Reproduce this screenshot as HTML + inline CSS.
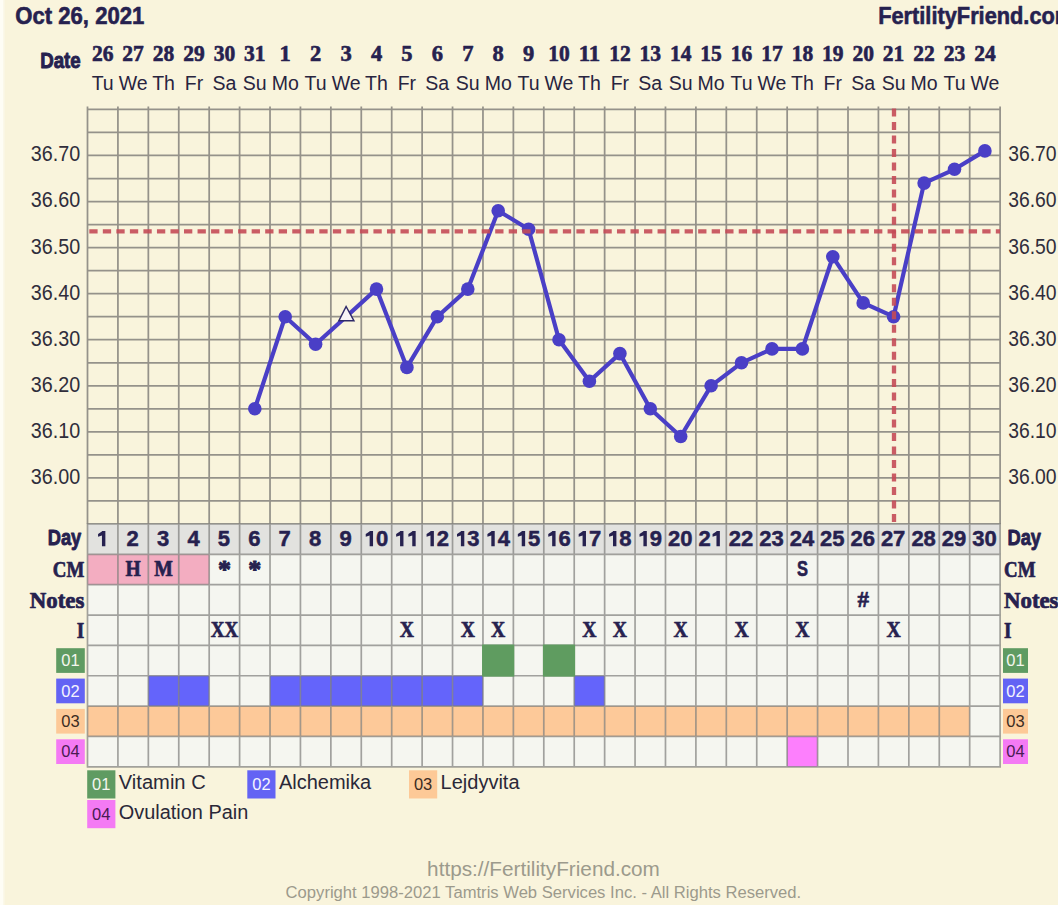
<!DOCTYPE html><html><head><meta charset="utf-8"><style>html,body{margin:0;padding:0;background:#f9f4dc;overflow:hidden;}svg{display:block}</style></head><body>
<svg width="1058" height="905" viewBox="0 0 1058 905" font-family="Liberation Sans, sans-serif">
<rect x="0" y="0" width="1058" height="905" fill="#f9f4dc"/>
<rect x="0" y="0" width="3" height="905" fill="#fefdf5"/><rect x="3" y="0" width="1.5" height="905" fill="#fbf8e9"/>
<text x="15.3" y="24.4" font-size="24.0" font-weight="bold" text-anchor="start" fill="#26214f" textLength="129.0" lengthAdjust="spacingAndGlyphs" stroke="#26214f" stroke-width="0.60" stroke-linejoin="round">Oct 26, 2021</text>
<text x="878.2" y="24.2" font-size="24.0" font-weight="bold" text-anchor="start" fill="#26214f" textLength="196.0" lengthAdjust="spacingAndGlyphs" stroke="#26214f" stroke-width="0.60" stroke-linejoin="round">FertilityFriend.com</text>
<text x="80.7" y="68.1" font-size="21.5" font-weight="bold" text-anchor="end" fill="#26214f" textLength="40.5" lengthAdjust="spacingAndGlyphs" stroke="#26214f" stroke-width="0.90" stroke-linejoin="round">Date</text>
<text x="102.7" y="60.9" font-size="22.5" font-weight="bold" text-anchor="middle" fill="#26214f" font-family="Liberation Serif, serif" textLength="21.5" lengthAdjust="spacingAndGlyphs" stroke="#26214f" stroke-width="0.60" stroke-linejoin="round">26</text>
<text x="102.7" y="90.3" font-size="19.5" font-weight="normal" text-anchor="middle" fill="#28243f">Tu</text>
<text x="133.1" y="60.9" font-size="22.5" font-weight="bold" text-anchor="middle" fill="#26214f" font-family="Liberation Serif, serif" textLength="21.5" lengthAdjust="spacingAndGlyphs" stroke="#26214f" stroke-width="0.60" stroke-linejoin="round">27</text>
<text x="133.1" y="90.3" font-size="19.5" font-weight="normal" text-anchor="middle" fill="#28243f">We</text>
<text x="163.6" y="60.9" font-size="22.5" font-weight="bold" text-anchor="middle" fill="#26214f" font-family="Liberation Serif, serif" textLength="21.5" lengthAdjust="spacingAndGlyphs" stroke="#26214f" stroke-width="0.60" stroke-linejoin="round">28</text>
<text x="163.6" y="90.3" font-size="19.5" font-weight="normal" text-anchor="middle" fill="#28243f">Th</text>
<text x="194.0" y="60.9" font-size="22.5" font-weight="bold" text-anchor="middle" fill="#26214f" font-family="Liberation Serif, serif" textLength="21.5" lengthAdjust="spacingAndGlyphs" stroke="#26214f" stroke-width="0.60" stroke-linejoin="round">29</text>
<text x="194.0" y="90.3" font-size="19.5" font-weight="normal" text-anchor="middle" fill="#28243f">Fr</text>
<text x="224.4" y="60.9" font-size="22.5" font-weight="bold" text-anchor="middle" fill="#26214f" font-family="Liberation Serif, serif" textLength="21.5" lengthAdjust="spacingAndGlyphs" stroke="#26214f" stroke-width="0.60" stroke-linejoin="round">30</text>
<text x="224.4" y="90.3" font-size="19.5" font-weight="normal" text-anchor="middle" fill="#28243f">Sa</text>
<text x="254.8" y="60.9" font-size="22.5" font-weight="bold" text-anchor="middle" fill="#26214f" font-family="Liberation Serif, serif" textLength="21.5" lengthAdjust="spacingAndGlyphs" stroke="#26214f" stroke-width="0.60" stroke-linejoin="round">31</text>
<text x="254.8" y="90.3" font-size="19.5" font-weight="normal" text-anchor="middle" fill="#28243f">Su</text>
<text x="285.2" y="60.9" font-size="22.5" font-weight="bold" text-anchor="middle" fill="#26214f" font-family="Liberation Serif, serif" stroke="#26214f" stroke-width="0.60" stroke-linejoin="round">1</text>
<text x="285.2" y="90.3" font-size="19.5" font-weight="normal" text-anchor="middle" fill="#28243f">Mo</text>
<text x="315.6" y="60.9" font-size="22.5" font-weight="bold" text-anchor="middle" fill="#26214f" font-family="Liberation Serif, serif" stroke="#26214f" stroke-width="0.60" stroke-linejoin="round">2</text>
<text x="315.6" y="90.3" font-size="19.5" font-weight="normal" text-anchor="middle" fill="#28243f">Tu</text>
<text x="346.1" y="60.9" font-size="22.5" font-weight="bold" text-anchor="middle" fill="#26214f" font-family="Liberation Serif, serif" stroke="#26214f" stroke-width="0.60" stroke-linejoin="round">3</text>
<text x="346.1" y="90.3" font-size="19.5" font-weight="normal" text-anchor="middle" fill="#28243f">We</text>
<text x="376.5" y="60.9" font-size="22.5" font-weight="bold" text-anchor="middle" fill="#26214f" font-family="Liberation Serif, serif" stroke="#26214f" stroke-width="0.60" stroke-linejoin="round">4</text>
<text x="376.5" y="90.3" font-size="19.5" font-weight="normal" text-anchor="middle" fill="#28243f">Th</text>
<text x="406.9" y="60.9" font-size="22.5" font-weight="bold" text-anchor="middle" fill="#26214f" font-family="Liberation Serif, serif" stroke="#26214f" stroke-width="0.60" stroke-linejoin="round">5</text>
<text x="406.9" y="90.3" font-size="19.5" font-weight="normal" text-anchor="middle" fill="#28243f">Fr</text>
<text x="437.3" y="60.9" font-size="22.5" font-weight="bold" text-anchor="middle" fill="#26214f" font-family="Liberation Serif, serif" stroke="#26214f" stroke-width="0.60" stroke-linejoin="round">6</text>
<text x="437.3" y="90.3" font-size="19.5" font-weight="normal" text-anchor="middle" fill="#28243f">Sa</text>
<text x="467.8" y="60.9" font-size="22.5" font-weight="bold" text-anchor="middle" fill="#26214f" font-family="Liberation Serif, serif" stroke="#26214f" stroke-width="0.60" stroke-linejoin="round">7</text>
<text x="467.8" y="90.3" font-size="19.5" font-weight="normal" text-anchor="middle" fill="#28243f">Su</text>
<text x="498.2" y="60.9" font-size="22.5" font-weight="bold" text-anchor="middle" fill="#26214f" font-family="Liberation Serif, serif" stroke="#26214f" stroke-width="0.60" stroke-linejoin="round">8</text>
<text x="498.2" y="90.3" font-size="19.5" font-weight="normal" text-anchor="middle" fill="#28243f">Mo</text>
<text x="528.6" y="60.9" font-size="22.5" font-weight="bold" text-anchor="middle" fill="#26214f" font-family="Liberation Serif, serif" stroke="#26214f" stroke-width="0.60" stroke-linejoin="round">9</text>
<text x="528.6" y="90.3" font-size="19.5" font-weight="normal" text-anchor="middle" fill="#28243f">Tu</text>
<text x="559.0" y="60.9" font-size="22.5" font-weight="bold" text-anchor="middle" fill="#26214f" font-family="Liberation Serif, serif" textLength="21.5" lengthAdjust="spacingAndGlyphs" stroke="#26214f" stroke-width="0.60" stroke-linejoin="round">10</text>
<text x="559.0" y="90.3" font-size="19.5" font-weight="normal" text-anchor="middle" fill="#28243f">We</text>
<text x="589.4" y="60.9" font-size="22.5" font-weight="bold" text-anchor="middle" fill="#26214f" font-family="Liberation Serif, serif" textLength="21.5" lengthAdjust="spacingAndGlyphs" stroke="#26214f" stroke-width="0.60" stroke-linejoin="round">11</text>
<text x="589.4" y="90.3" font-size="19.5" font-weight="normal" text-anchor="middle" fill="#28243f">Th</text>
<text x="619.9" y="60.9" font-size="22.5" font-weight="bold" text-anchor="middle" fill="#26214f" font-family="Liberation Serif, serif" textLength="21.5" lengthAdjust="spacingAndGlyphs" stroke="#26214f" stroke-width="0.60" stroke-linejoin="round">12</text>
<text x="619.9" y="90.3" font-size="19.5" font-weight="normal" text-anchor="middle" fill="#28243f">Fr</text>
<text x="650.3" y="60.9" font-size="22.5" font-weight="bold" text-anchor="middle" fill="#26214f" font-family="Liberation Serif, serif" textLength="21.5" lengthAdjust="spacingAndGlyphs" stroke="#26214f" stroke-width="0.60" stroke-linejoin="round">13</text>
<text x="650.3" y="90.3" font-size="19.5" font-weight="normal" text-anchor="middle" fill="#28243f">Sa</text>
<text x="680.7" y="60.9" font-size="22.5" font-weight="bold" text-anchor="middle" fill="#26214f" font-family="Liberation Serif, serif" textLength="21.5" lengthAdjust="spacingAndGlyphs" stroke="#26214f" stroke-width="0.60" stroke-linejoin="round">14</text>
<text x="680.7" y="90.3" font-size="19.5" font-weight="normal" text-anchor="middle" fill="#28243f">Su</text>
<text x="711.1" y="60.9" font-size="22.5" font-weight="bold" text-anchor="middle" fill="#26214f" font-family="Liberation Serif, serif" textLength="21.5" lengthAdjust="spacingAndGlyphs" stroke="#26214f" stroke-width="0.60" stroke-linejoin="round">15</text>
<text x="711.1" y="90.3" font-size="19.5" font-weight="normal" text-anchor="middle" fill="#28243f">Mo</text>
<text x="741.5" y="60.9" font-size="22.5" font-weight="bold" text-anchor="middle" fill="#26214f" font-family="Liberation Serif, serif" textLength="21.5" lengthAdjust="spacingAndGlyphs" stroke="#26214f" stroke-width="0.60" stroke-linejoin="round">16</text>
<text x="741.5" y="90.3" font-size="19.5" font-weight="normal" text-anchor="middle" fill="#28243f">Tu</text>
<text x="772.0" y="60.9" font-size="22.5" font-weight="bold" text-anchor="middle" fill="#26214f" font-family="Liberation Serif, serif" textLength="21.5" lengthAdjust="spacingAndGlyphs" stroke="#26214f" stroke-width="0.60" stroke-linejoin="round">17</text>
<text x="772.0" y="90.3" font-size="19.5" font-weight="normal" text-anchor="middle" fill="#28243f">We</text>
<text x="802.4" y="60.9" font-size="22.5" font-weight="bold" text-anchor="middle" fill="#26214f" font-family="Liberation Serif, serif" textLength="21.5" lengthAdjust="spacingAndGlyphs" stroke="#26214f" stroke-width="0.60" stroke-linejoin="round">18</text>
<text x="802.4" y="90.3" font-size="19.5" font-weight="normal" text-anchor="middle" fill="#28243f">Th</text>
<text x="832.8" y="60.9" font-size="22.5" font-weight="bold" text-anchor="middle" fill="#26214f" font-family="Liberation Serif, serif" textLength="21.5" lengthAdjust="spacingAndGlyphs" stroke="#26214f" stroke-width="0.60" stroke-linejoin="round">19</text>
<text x="832.8" y="90.3" font-size="19.5" font-weight="normal" text-anchor="middle" fill="#28243f">Fr</text>
<text x="863.2" y="60.9" font-size="22.5" font-weight="bold" text-anchor="middle" fill="#26214f" font-family="Liberation Serif, serif" textLength="21.5" lengthAdjust="spacingAndGlyphs" stroke="#26214f" stroke-width="0.60" stroke-linejoin="round">20</text>
<text x="863.2" y="90.3" font-size="19.5" font-weight="normal" text-anchor="middle" fill="#28243f">Sa</text>
<text x="893.6" y="60.9" font-size="22.5" font-weight="bold" text-anchor="middle" fill="#26214f" font-family="Liberation Serif, serif" textLength="21.5" lengthAdjust="spacingAndGlyphs" stroke="#26214f" stroke-width="0.60" stroke-linejoin="round">21</text>
<text x="893.6" y="90.3" font-size="19.5" font-weight="normal" text-anchor="middle" fill="#28243f">Su</text>
<text x="924.1" y="60.9" font-size="22.5" font-weight="bold" text-anchor="middle" fill="#26214f" font-family="Liberation Serif, serif" textLength="21.5" lengthAdjust="spacingAndGlyphs" stroke="#26214f" stroke-width="0.60" stroke-linejoin="round">22</text>
<text x="924.1" y="90.3" font-size="19.5" font-weight="normal" text-anchor="middle" fill="#28243f">Mo</text>
<text x="954.5" y="60.9" font-size="22.5" font-weight="bold" text-anchor="middle" fill="#26214f" font-family="Liberation Serif, serif" textLength="21.5" lengthAdjust="spacingAndGlyphs" stroke="#26214f" stroke-width="0.60" stroke-linejoin="round">23</text>
<text x="954.5" y="90.3" font-size="19.5" font-weight="normal" text-anchor="middle" fill="#28243f">Tu</text>
<text x="984.9" y="60.9" font-size="22.5" font-weight="bold" text-anchor="middle" fill="#26214f" font-family="Liberation Serif, serif" textLength="21.5" lengthAdjust="spacingAndGlyphs" stroke="#26214f" stroke-width="0.60" stroke-linejoin="round">24</text>
<text x="984.9" y="90.3" font-size="19.5" font-weight="normal" text-anchor="middle" fill="#28243f">We</text>
<path d="M87.5 109.40H1000.1M87.5 132.43H1000.1M87.5 155.47H1000.1M87.5 178.50H1000.1M87.5 201.53H1000.1M87.5 224.57H1000.1M87.5 247.60H1000.1M87.5 270.63H1000.1M87.5 293.67H1000.1M87.5 316.70H1000.1M87.5 339.73H1000.1M87.5 362.77H1000.1M87.5 385.80H1000.1M87.5 408.83H1000.1M87.5 431.87H1000.1M87.5 454.90H1000.1M87.5 477.93H1000.1M87.5 500.97H1000.1M87.5 524.00H1000.1M87.50 106.4V524.0M117.92 106.4V524.0M148.34 106.4V524.0M178.76 106.4V524.0M209.18 106.4V524.0M239.60 106.4V524.0M270.02 106.4V524.0M300.44 106.4V524.0M330.86 106.4V524.0M361.28 106.4V524.0M391.70 106.4V524.0M422.12 106.4V524.0M452.54 106.4V524.0M482.96 106.4V524.0M513.38 106.4V524.0M543.80 106.4V524.0M574.22 106.4V524.0M604.64 106.4V524.0M635.06 106.4V524.0M665.48 106.4V524.0M695.90 106.4V524.0M726.32 106.4V524.0M756.74 106.4V524.0M787.16 106.4V524.0M817.58 106.4V524.0M848.00 106.4V524.0M878.42 106.4V524.0M908.84 106.4V524.0M939.26 106.4V524.0M969.68 106.4V524.0M1000.10 106.4V524.0" stroke="#95928a" stroke-width="1.75" fill="none"/>
<text x="80.2" y="161.4" font-size="21.5" font-weight="normal" text-anchor="end" fill="#302d3b" textLength="49.4" lengthAdjust="spacingAndGlyphs">36.70</text>
<text x="1008.2" y="161.4" font-size="21.5" font-weight="normal" text-anchor="start" fill="#302d3b" textLength="48.4" lengthAdjust="spacingAndGlyphs">36.70</text>
<text x="80.2" y="207.4" font-size="21.5" font-weight="normal" text-anchor="end" fill="#302d3b" textLength="49.4" lengthAdjust="spacingAndGlyphs">36.60</text>
<text x="1008.2" y="207.4" font-size="21.5" font-weight="normal" text-anchor="start" fill="#302d3b" textLength="48.4" lengthAdjust="spacingAndGlyphs">36.60</text>
<text x="80.2" y="253.5" font-size="21.5" font-weight="normal" text-anchor="end" fill="#302d3b" textLength="49.4" lengthAdjust="spacingAndGlyphs">36.50</text>
<text x="1008.2" y="253.5" font-size="21.5" font-weight="normal" text-anchor="start" fill="#302d3b" textLength="48.4" lengthAdjust="spacingAndGlyphs">36.50</text>
<text x="80.2" y="299.6" font-size="21.5" font-weight="normal" text-anchor="end" fill="#302d3b" textLength="49.4" lengthAdjust="spacingAndGlyphs">36.40</text>
<text x="1008.2" y="299.6" font-size="21.5" font-weight="normal" text-anchor="start" fill="#302d3b" textLength="48.4" lengthAdjust="spacingAndGlyphs">36.40</text>
<text x="80.2" y="345.6" font-size="21.5" font-weight="normal" text-anchor="end" fill="#302d3b" textLength="49.4" lengthAdjust="spacingAndGlyphs">36.30</text>
<text x="1008.2" y="345.6" font-size="21.5" font-weight="normal" text-anchor="start" fill="#302d3b" textLength="48.4" lengthAdjust="spacingAndGlyphs">36.30</text>
<text x="80.2" y="391.7" font-size="21.5" font-weight="normal" text-anchor="end" fill="#302d3b" textLength="49.4" lengthAdjust="spacingAndGlyphs">36.20</text>
<text x="1008.2" y="391.7" font-size="21.5" font-weight="normal" text-anchor="start" fill="#302d3b" textLength="48.4" lengthAdjust="spacingAndGlyphs">36.20</text>
<text x="80.2" y="437.8" font-size="21.5" font-weight="normal" text-anchor="end" fill="#302d3b" textLength="49.4" lengthAdjust="spacingAndGlyphs">36.10</text>
<text x="1008.2" y="437.8" font-size="21.5" font-weight="normal" text-anchor="start" fill="#302d3b" textLength="48.4" lengthAdjust="spacingAndGlyphs">36.10</text>
<text x="80.2" y="483.8" font-size="21.5" font-weight="normal" text-anchor="end" fill="#302d3b" textLength="49.4" lengthAdjust="spacingAndGlyphs">36.00</text>
<text x="1008.2" y="483.8" font-size="21.5" font-weight="normal" text-anchor="start" fill="#302d3b" textLength="48.4" lengthAdjust="spacingAndGlyphs">36.00</text>
<rect x="87.5" y="524.0" width="912.6" height="30.4" fill="#e2e2df"/>
<rect x="87.5" y="554.4" width="912.6" height="212.5" fill="#f5f6f0"/>
<rect x="87.50" y="554.35" width="30.42" height="30.35" fill="#f3adc1"/>
<rect x="117.92" y="554.35" width="30.42" height="30.35" fill="#f3adc1"/>
<rect x="148.34" y="554.35" width="30.42" height="30.35" fill="#f3adc1"/>
<rect x="178.76" y="554.35" width="30.42" height="30.35" fill="#f3adc1"/>
<rect x="148.34" y="675.75" width="30.42" height="30.35" fill="#6464fb"/>
<rect x="178.76" y="675.75" width="30.42" height="30.35" fill="#6464fb"/>
<rect x="270.02" y="675.75" width="30.42" height="30.35" fill="#6464fb"/>
<rect x="300.44" y="675.75" width="30.42" height="30.35" fill="#6464fb"/>
<rect x="330.86" y="675.75" width="30.42" height="30.35" fill="#6464fb"/>
<rect x="361.28" y="675.75" width="30.42" height="30.35" fill="#6464fb"/>
<rect x="391.70" y="675.75" width="30.42" height="30.35" fill="#6464fb"/>
<rect x="422.12" y="675.75" width="30.42" height="30.35" fill="#6464fb"/>
<rect x="452.54" y="675.75" width="30.42" height="30.35" fill="#6464fb"/>
<rect x="574.22" y="675.75" width="30.42" height="30.35" fill="#6464fb"/>
<rect x="87.50" y="706.10" width="30.42" height="30.35" fill="#fdc999"/>
<rect x="117.92" y="706.10" width="30.42" height="30.35" fill="#fdc999"/>
<rect x="148.34" y="706.10" width="30.42" height="30.35" fill="#fdc999"/>
<rect x="178.76" y="706.10" width="30.42" height="30.35" fill="#fdc999"/>
<rect x="209.18" y="706.10" width="30.42" height="30.35" fill="#fdc999"/>
<rect x="239.60" y="706.10" width="30.42" height="30.35" fill="#fdc999"/>
<rect x="270.02" y="706.10" width="30.42" height="30.35" fill="#fdc999"/>
<rect x="300.44" y="706.10" width="30.42" height="30.35" fill="#fdc999"/>
<rect x="330.86" y="706.10" width="30.42" height="30.35" fill="#fdc999"/>
<rect x="361.28" y="706.10" width="30.42" height="30.35" fill="#fdc999"/>
<rect x="391.70" y="706.10" width="30.42" height="30.35" fill="#fdc999"/>
<rect x="422.12" y="706.10" width="30.42" height="30.35" fill="#fdc999"/>
<rect x="452.54" y="706.10" width="30.42" height="30.35" fill="#fdc999"/>
<rect x="482.96" y="706.10" width="30.42" height="30.35" fill="#fdc999"/>
<rect x="513.38" y="706.10" width="30.42" height="30.35" fill="#fdc999"/>
<rect x="543.80" y="706.10" width="30.42" height="30.35" fill="#fdc999"/>
<rect x="574.22" y="706.10" width="30.42" height="30.35" fill="#fdc999"/>
<rect x="604.64" y="706.10" width="30.42" height="30.35" fill="#fdc999"/>
<rect x="635.06" y="706.10" width="30.42" height="30.35" fill="#fdc999"/>
<rect x="665.48" y="706.10" width="30.42" height="30.35" fill="#fdc999"/>
<rect x="695.90" y="706.10" width="30.42" height="30.35" fill="#fdc999"/>
<rect x="726.32" y="706.10" width="30.42" height="30.35" fill="#fdc999"/>
<rect x="756.74" y="706.10" width="30.42" height="30.35" fill="#fdc999"/>
<rect x="787.16" y="706.10" width="30.42" height="30.35" fill="#fdc999"/>
<rect x="817.58" y="706.10" width="30.42" height="30.35" fill="#fdc999"/>
<rect x="848.00" y="706.10" width="30.42" height="30.35" fill="#fdc999"/>
<rect x="878.42" y="706.10" width="30.42" height="30.35" fill="#fdc999"/>
<rect x="908.84" y="706.10" width="30.42" height="30.35" fill="#fdc999"/>
<rect x="939.26" y="706.10" width="30.42" height="30.35" fill="#fdc999"/>
<rect x="787.16" y="736.45" width="30.42" height="30.35" fill="#fd7ffd"/>
<path d="M86.7 524.00H1001.0M86.7 554.35H1001.0M86.7 584.70H1001.0M86.7 615.05H1001.0M86.7 645.40H1001.0M86.7 675.75H1001.0M86.7 706.10H1001.0M86.7 736.45H1001.0M86.7 766.80H1001.0M87.50 524.0V766.8M117.92 524.0V766.8M148.34 524.0V766.8M178.76 524.0V766.8M209.18 524.0V766.8M239.60 524.0V766.8M270.02 524.0V766.8M300.44 524.0V766.8M330.86 524.0V766.8M361.28 524.0V766.8M391.70 524.0V766.8M422.12 524.0V766.8M452.54 524.0V766.8M482.96 524.0V766.8M513.38 524.0V766.8M543.80 524.0V766.8M574.22 524.0V766.8M604.64 524.0V766.8M635.06 524.0V766.8M665.48 524.0V766.8M695.90 524.0V766.8M726.32 524.0V766.8M756.74 524.0V766.8M787.16 524.0V766.8M817.58 524.0V766.8M848.00 524.0V766.8M878.42 524.0V766.8M908.84 524.0V766.8M939.26 524.0V766.8M969.68 524.0V766.8M1000.10 524.0V766.8" stroke="#7e7e7a" stroke-opacity="0.7" stroke-width="1.7" fill="none"/>
<rect x="482.06" y="644.50" width="32.22" height="32.15" fill="#5f9c60"/>
<rect x="542.90" y="644.50" width="32.22" height="32.15" fill="#5f9c60"/>
<path d="M102.06 531.10 L105.36 531.10 L105.36 546.30 L101.96 546.30 L101.96 535.40 L98.06 536.70 L98.06 534.00 L101.86 531.40 Z" fill="#26214f"/>
<text x="132.6" y="546.3" font-size="22.0" font-weight="bold" text-anchor="middle" fill="#26214f" stroke="#26214f" stroke-width="0.50" stroke-linejoin="round">2</text>
<text x="163.1" y="546.3" font-size="22.0" font-weight="bold" text-anchor="middle" fill="#26214f" stroke="#26214f" stroke-width="0.50" stroke-linejoin="round">3</text>
<text x="193.5" y="546.3" font-size="22.0" font-weight="bold" text-anchor="middle" fill="#26214f" stroke="#26214f" stroke-width="0.50" stroke-linejoin="round">4</text>
<text x="223.9" y="546.3" font-size="22.0" font-weight="bold" text-anchor="middle" fill="#26214f" stroke="#26214f" stroke-width="0.50" stroke-linejoin="round">5</text>
<text x="254.3" y="546.3" font-size="22.0" font-weight="bold" text-anchor="middle" fill="#26214f" stroke="#26214f" stroke-width="0.50" stroke-linejoin="round">6</text>
<text x="284.7" y="546.3" font-size="22.0" font-weight="bold" text-anchor="middle" fill="#26214f" stroke="#26214f" stroke-width="0.50" stroke-linejoin="round">7</text>
<text x="315.1" y="546.3" font-size="22.0" font-weight="bold" text-anchor="middle" fill="#26214f" stroke="#26214f" stroke-width="0.50" stroke-linejoin="round">8</text>
<text x="345.6" y="546.3" font-size="22.0" font-weight="bold" text-anchor="middle" fill="#26214f" stroke="#26214f" stroke-width="0.50" stroke-linejoin="round">9</text>
<path d="M369.74 531.10 L373.04 531.10 L373.04 546.30 L369.64 546.30 L369.64 535.40 L365.74 536.70 L365.74 534.00 L369.54 531.40 Z" fill="#26214f"/>
<text x="382.1" y="546.3" font-size="22.0" font-weight="bold" text-anchor="middle" fill="#26214f" stroke="#26214f" stroke-width="0.50" stroke-linejoin="round">0</text>
<path d="M400.16 531.10 L403.46 531.10 L403.46 546.30 L400.06 546.30 L400.06 535.40 L396.16 536.70 L396.16 534.00 L399.96 531.40 Z" fill="#26214f"/>
<path d="M412.36 531.10 L415.66 531.10 L415.66 546.30 L412.26 546.30 L412.26 535.40 L408.36 536.70 L408.36 534.00 L412.16 531.40 Z" fill="#26214f"/>
<path d="M430.58 531.10 L433.88 531.10 L433.88 546.30 L430.48 546.30 L430.48 535.40 L426.58 536.70 L426.58 534.00 L430.38 531.40 Z" fill="#26214f"/>
<text x="442.9" y="546.3" font-size="22.0" font-weight="bold" text-anchor="middle" fill="#26214f" stroke="#26214f" stroke-width="0.50" stroke-linejoin="round">2</text>
<path d="M461.00 531.10 L464.30 531.10 L464.30 546.30 L460.90 546.30 L460.90 535.40 L457.00 536.70 L457.00 534.00 L460.80 531.40 Z" fill="#26214f"/>
<text x="473.4" y="546.3" font-size="22.0" font-weight="bold" text-anchor="middle" fill="#26214f" stroke="#26214f" stroke-width="0.50" stroke-linejoin="round">3</text>
<path d="M491.42 531.10 L494.72 531.10 L494.72 546.30 L491.32 546.30 L491.32 535.40 L487.42 536.70 L487.42 534.00 L491.22 531.40 Z" fill="#26214f"/>
<text x="503.8" y="546.3" font-size="22.0" font-weight="bold" text-anchor="middle" fill="#26214f" stroke="#26214f" stroke-width="0.50" stroke-linejoin="round">4</text>
<path d="M521.84 531.10 L525.14 531.10 L525.14 546.30 L521.74 546.30 L521.74 535.40 L517.84 536.70 L517.84 534.00 L521.64 531.40 Z" fill="#26214f"/>
<text x="534.2" y="546.3" font-size="22.0" font-weight="bold" text-anchor="middle" fill="#26214f" stroke="#26214f" stroke-width="0.50" stroke-linejoin="round">5</text>
<path d="M552.26 531.10 L555.56 531.10 L555.56 546.30 L552.16 546.30 L552.16 535.40 L548.26 536.70 L548.26 534.00 L552.06 531.40 Z" fill="#26214f"/>
<text x="564.6" y="546.3" font-size="22.0" font-weight="bold" text-anchor="middle" fill="#26214f" stroke="#26214f" stroke-width="0.50" stroke-linejoin="round">6</text>
<path d="M582.68 531.10 L585.98 531.10 L585.98 546.30 L582.58 546.30 L582.58 535.40 L578.68 536.70 L578.68 534.00 L582.48 531.40 Z" fill="#26214f"/>
<text x="595.0" y="546.3" font-size="22.0" font-weight="bold" text-anchor="middle" fill="#26214f" stroke="#26214f" stroke-width="0.50" stroke-linejoin="round">7</text>
<path d="M613.10 531.10 L616.40 531.10 L616.40 546.30 L613.00 546.30 L613.00 535.40 L609.10 536.70 L609.10 534.00 L612.90 531.40 Z" fill="#26214f"/>
<text x="625.4" y="546.3" font-size="22.0" font-weight="bold" text-anchor="middle" fill="#26214f" stroke="#26214f" stroke-width="0.50" stroke-linejoin="round">8</text>
<path d="M643.52 531.10 L646.82 531.10 L646.82 546.30 L643.42 546.30 L643.42 535.40 L639.52 536.70 L639.52 534.00 L643.32 531.40 Z" fill="#26214f"/>
<text x="655.9" y="546.3" font-size="22.0" font-weight="bold" text-anchor="middle" fill="#26214f" stroke="#26214f" stroke-width="0.50" stroke-linejoin="round">9</text>
<text x="674.1" y="546.3" font-size="22.0" font-weight="bold" text-anchor="middle" fill="#26214f" stroke="#26214f" stroke-width="0.50" stroke-linejoin="round">2</text>
<text x="686.3" y="546.3" font-size="22.0" font-weight="bold" text-anchor="middle" fill="#26214f" stroke="#26214f" stroke-width="0.50" stroke-linejoin="round">0</text>
<text x="704.5" y="546.3" font-size="22.0" font-weight="bold" text-anchor="middle" fill="#26214f" stroke="#26214f" stroke-width="0.50" stroke-linejoin="round">2</text>
<path d="M716.56 531.10 L719.86 531.10 L719.86 546.30 L716.46 546.30 L716.46 535.40 L712.56 536.70 L712.56 534.00 L716.36 531.40 Z" fill="#26214f"/>
<text x="734.9" y="546.3" font-size="22.0" font-weight="bold" text-anchor="middle" fill="#26214f" stroke="#26214f" stroke-width="0.50" stroke-linejoin="round">2</text>
<text x="747.1" y="546.3" font-size="22.0" font-weight="bold" text-anchor="middle" fill="#26214f" stroke="#26214f" stroke-width="0.50" stroke-linejoin="round">2</text>
<text x="765.4" y="546.3" font-size="22.0" font-weight="bold" text-anchor="middle" fill="#26214f" stroke="#26214f" stroke-width="0.50" stroke-linejoin="round">2</text>
<text x="777.5" y="546.3" font-size="22.0" font-weight="bold" text-anchor="middle" fill="#26214f" stroke="#26214f" stroke-width="0.50" stroke-linejoin="round">3</text>
<text x="795.8" y="546.3" font-size="22.0" font-weight="bold" text-anchor="middle" fill="#26214f" stroke="#26214f" stroke-width="0.50" stroke-linejoin="round">2</text>
<text x="808.0" y="546.3" font-size="22.0" font-weight="bold" text-anchor="middle" fill="#26214f" stroke="#26214f" stroke-width="0.50" stroke-linejoin="round">4</text>
<text x="826.2" y="546.3" font-size="22.0" font-weight="bold" text-anchor="middle" fill="#26214f" stroke="#26214f" stroke-width="0.50" stroke-linejoin="round">2</text>
<text x="838.4" y="546.3" font-size="22.0" font-weight="bold" text-anchor="middle" fill="#26214f" stroke="#26214f" stroke-width="0.50" stroke-linejoin="round">5</text>
<text x="856.6" y="546.3" font-size="22.0" font-weight="bold" text-anchor="middle" fill="#26214f" stroke="#26214f" stroke-width="0.50" stroke-linejoin="round">2</text>
<text x="868.8" y="546.3" font-size="22.0" font-weight="bold" text-anchor="middle" fill="#26214f" stroke="#26214f" stroke-width="0.50" stroke-linejoin="round">6</text>
<text x="887.0" y="546.3" font-size="22.0" font-weight="bold" text-anchor="middle" fill="#26214f" stroke="#26214f" stroke-width="0.50" stroke-linejoin="round">2</text>
<text x="899.2" y="546.3" font-size="22.0" font-weight="bold" text-anchor="middle" fill="#26214f" stroke="#26214f" stroke-width="0.50" stroke-linejoin="round">7</text>
<text x="917.5" y="546.3" font-size="22.0" font-weight="bold" text-anchor="middle" fill="#26214f" stroke="#26214f" stroke-width="0.50" stroke-linejoin="round">2</text>
<text x="929.6" y="546.3" font-size="22.0" font-weight="bold" text-anchor="middle" fill="#26214f" stroke="#26214f" stroke-width="0.50" stroke-linejoin="round">8</text>
<text x="947.9" y="546.3" font-size="22.0" font-weight="bold" text-anchor="middle" fill="#26214f" stroke="#26214f" stroke-width="0.50" stroke-linejoin="round">2</text>
<text x="960.1" y="546.3" font-size="22.0" font-weight="bold" text-anchor="middle" fill="#26214f" stroke="#26214f" stroke-width="0.50" stroke-linejoin="round">9</text>
<text x="978.3" y="546.3" font-size="22.0" font-weight="bold" text-anchor="middle" fill="#26214f" stroke="#26214f" stroke-width="0.50" stroke-linejoin="round">3</text>
<text x="990.5" y="546.3" font-size="22.0" font-weight="bold" text-anchor="middle" fill="#26214f" stroke="#26214f" stroke-width="0.50" stroke-linejoin="round">0</text>
<text x="81.2" y="544.6" font-size="22.0" font-weight="bold" text-anchor="end" fill="#26214f" textLength="33.5" lengthAdjust="spacingAndGlyphs" stroke="#26214f" stroke-width="0.85" stroke-linejoin="round">Day</text>
<text x="84.3" y="576.9" font-size="22.5" font-weight="bold" text-anchor="end" fill="#26214f" font-family="Liberation Serif, serif" textLength="31.5" lengthAdjust="spacingAndGlyphs" stroke="#26214f" stroke-width="0.70" stroke-linejoin="round">CM</text>
<text x="84.3" y="607.8" font-size="22.5" font-weight="bold" text-anchor="end" fill="#26214f" font-family="Liberation Serif, serif" textLength="54.5" lengthAdjust="spacingAndGlyphs" stroke="#26214f" stroke-width="0.70" stroke-linejoin="round">Notes</text>
<text x="84.3" y="638.0" font-size="22.5" font-weight="bold" text-anchor="end" fill="#26214f" font-family="Liberation Serif, serif" textLength="7.5" lengthAdjust="spacingAndGlyphs" stroke="#26214f" stroke-width="0.70" stroke-linejoin="round">I</text>
<text x="1007.5" y="544.6" font-size="22.0" font-weight="bold" text-anchor="start" fill="#26214f" textLength="33.5" lengthAdjust="spacingAndGlyphs" stroke="#26214f" stroke-width="0.85" stroke-linejoin="round">Day</text>
<text x="1004.0" y="576.9" font-size="22.5" font-weight="bold" text-anchor="start" fill="#26214f" font-family="Liberation Serif, serif" textLength="31.5" lengthAdjust="spacingAndGlyphs" stroke="#26214f" stroke-width="0.70" stroke-linejoin="round">CM</text>
<text x="1004.0" y="607.8" font-size="22.5" font-weight="bold" text-anchor="start" fill="#26214f" font-family="Liberation Serif, serif" textLength="54.5" lengthAdjust="spacingAndGlyphs" stroke="#26214f" stroke-width="0.70" stroke-linejoin="round">Notes</text>
<text x="1004.0" y="638.0" font-size="22.5" font-weight="bold" text-anchor="start" fill="#26214f" font-family="Liberation Serif, serif" textLength="7.5" lengthAdjust="spacingAndGlyphs" stroke="#26214f" stroke-width="0.70" stroke-linejoin="round">I</text>
<rect x="56.2" y="648.2" width="28.6" height="24.7" fill="#5f9b62"/>
<text x="70.5" y="666.4" font-size="16.5" font-weight="normal" text-anchor="middle" fill="#f4f6ee">01</text>
<rect x="1003" y="648.2" width="25" height="24.7" fill="#5f9b62"/>
<text x="1015.5" y="666.4" font-size="16.5" font-weight="normal" text-anchor="middle" fill="#f4f6ee">01</text>
<rect x="56.2" y="678.6" width="28.6" height="24.7" fill="#6363f4"/>
<text x="70.5" y="696.7" font-size="16.5" font-weight="normal" text-anchor="middle" fill="#f4f4ff">02</text>
<rect x="1003" y="678.6" width="25" height="24.7" fill="#6363f4"/>
<text x="1015.5" y="696.7" font-size="16.5" font-weight="normal" text-anchor="middle" fill="#f4f4ff">02</text>
<rect x="56.2" y="708.9" width="28.6" height="24.7" fill="#fdc997"/>
<text x="70.5" y="727.1" font-size="16.5" font-weight="normal" text-anchor="middle" fill="#3b2c22">03</text>
<rect x="1003" y="708.9" width="25" height="24.7" fill="#fdc997"/>
<text x="1015.5" y="727.1" font-size="16.5" font-weight="normal" text-anchor="middle" fill="#3b2c22">03</text>
<rect x="56.2" y="739.3" width="28.6" height="24.7" fill="#f47af4"/>
<text x="70.5" y="757.4" font-size="16.5" font-weight="normal" text-anchor="middle" fill="#4a1c52">04</text>
<rect x="1003" y="739.3" width="25" height="24.7" fill="#f47af4"/>
<text x="1015.5" y="757.4" font-size="16.5" font-weight="normal" text-anchor="middle" fill="#4a1c52">04</text>
<text x="133.1" y="576.0" font-size="22.5" font-weight="bold" text-anchor="middle" fill="#26214f" font-family="Liberation Serif, serif" textLength="15.2" lengthAdjust="spacingAndGlyphs" stroke="#26214f" stroke-width="0.70" stroke-linejoin="round">H</text>
<text x="163.6" y="576.0" font-size="22.5" font-weight="bold" text-anchor="middle" fill="#26214f" font-family="Liberation Serif, serif" textLength="18.6" lengthAdjust="spacingAndGlyphs" stroke="#26214f" stroke-width="0.70" stroke-linejoin="round">M</text>
<text x="224.4" y="577.5" font-size="26.0" font-weight="bold" text-anchor="middle" fill="#26214f" font-family="Liberation Serif, serif" stroke="#26214f" stroke-width="1.00" stroke-linejoin="round">*</text>
<text x="254.8" y="577.5" font-size="26.0" font-weight="bold" text-anchor="middle" fill="#26214f" font-family="Liberation Serif, serif" stroke="#26214f" stroke-width="1.00" stroke-linejoin="round">*</text>
<text x="802.4" y="576.2" font-size="21.5" font-weight="bold" text-anchor="middle" fill="#26214f" font-family="Liberation Sans, sans-serif" textLength="11.0" lengthAdjust="spacingAndGlyphs" stroke="#26214f" stroke-width="0.60" stroke-linejoin="round">S</text>
<text x="863.2" y="607.3" font-size="22.5" font-weight="bold" text-anchor="middle" fill="#26214f" font-family="Liberation Serif, serif" textLength="11.5" lengthAdjust="spacingAndGlyphs" stroke="#26214f" stroke-width="0.60" stroke-linejoin="round">#</text>
<text x="224.4" y="637.2" font-size="22.5" font-weight="bold" text-anchor="middle" fill="#26214f" font-family="Liberation Serif, serif" textLength="27.5" lengthAdjust="spacingAndGlyphs" stroke="#26214f" stroke-width="0.70" stroke-linejoin="round">XX</text>
<text x="406.9" y="637.4" font-size="22.5" font-weight="bold" text-anchor="middle" fill="#26214f" font-family="Liberation Serif, serif" textLength="14.2" lengthAdjust="spacingAndGlyphs" stroke="#26214f" stroke-width="0.70" stroke-linejoin="round">X</text>
<text x="467.8" y="637.4" font-size="22.5" font-weight="bold" text-anchor="middle" fill="#26214f" font-family="Liberation Serif, serif" textLength="14.2" lengthAdjust="spacingAndGlyphs" stroke="#26214f" stroke-width="0.70" stroke-linejoin="round">X</text>
<text x="498.2" y="637.4" font-size="22.5" font-weight="bold" text-anchor="middle" fill="#26214f" font-family="Liberation Serif, serif" textLength="14.2" lengthAdjust="spacingAndGlyphs" stroke="#26214f" stroke-width="0.70" stroke-linejoin="round">X</text>
<text x="589.4" y="637.4" font-size="22.5" font-weight="bold" text-anchor="middle" fill="#26214f" font-family="Liberation Serif, serif" textLength="14.2" lengthAdjust="spacingAndGlyphs" stroke="#26214f" stroke-width="0.70" stroke-linejoin="round">X</text>
<text x="619.9" y="637.4" font-size="22.5" font-weight="bold" text-anchor="middle" fill="#26214f" font-family="Liberation Serif, serif" textLength="14.2" lengthAdjust="spacingAndGlyphs" stroke="#26214f" stroke-width="0.70" stroke-linejoin="round">X</text>
<text x="680.7" y="637.4" font-size="22.5" font-weight="bold" text-anchor="middle" fill="#26214f" font-family="Liberation Serif, serif" textLength="14.2" lengthAdjust="spacingAndGlyphs" stroke="#26214f" stroke-width="0.70" stroke-linejoin="round">X</text>
<text x="741.5" y="637.4" font-size="22.5" font-weight="bold" text-anchor="middle" fill="#26214f" font-family="Liberation Serif, serif" textLength="14.2" lengthAdjust="spacingAndGlyphs" stroke="#26214f" stroke-width="0.70" stroke-linejoin="round">X</text>
<text x="802.4" y="637.4" font-size="22.5" font-weight="bold" text-anchor="middle" fill="#26214f" font-family="Liberation Serif, serif" textLength="14.2" lengthAdjust="spacingAndGlyphs" stroke="#26214f" stroke-width="0.70" stroke-linejoin="round">X</text>
<text x="893.6" y="637.4" font-size="22.5" font-weight="bold" text-anchor="middle" fill="#26214f" font-family="Liberation Serif, serif" textLength="14.2" lengthAdjust="spacingAndGlyphs" stroke="#26214f" stroke-width="0.70" stroke-linejoin="round">X</text>
<polyline points="254.8,408.8 285.2,316.7 315.6,344.3 346.1,316.7 376.5,289.1 406.9,367.4 437.3,316.7 467.8,289.1 498.2,210.7 528.6,229.2 559.0,339.7 589.4,381.2 619.9,353.6 650.3,408.8 680.7,436.5 711.1,385.8 741.5,362.8 772.0,348.9 802.4,348.9 832.8,256.8 863.2,302.9 893.6,316.7 924.1,183.1 954.5,169.3 984.9,150.9" fill="none" stroke="#4a3fc6" stroke-width="4.2" stroke-linejoin="round"/>
<circle cx="254.8" cy="408.8" r="6.8" fill="#4a3fc6"/>
<circle cx="285.2" cy="316.7" r="6.8" fill="#4a3fc6"/>
<circle cx="315.6" cy="344.3" r="6.8" fill="#4a3fc6"/>
<path d="M346.1 306.5L353.9 320.7L338.9 320.7Z" fill="#f7f4f6" stroke="#2e2968" stroke-width="1.5" stroke-linejoin="miter"/>
<circle cx="376.5" cy="289.1" r="6.8" fill="#4a3fc6"/>
<circle cx="406.9" cy="367.4" r="6.8" fill="#4a3fc6"/>
<circle cx="437.3" cy="316.7" r="6.8" fill="#4a3fc6"/>
<circle cx="467.8" cy="289.1" r="6.8" fill="#4a3fc6"/>
<circle cx="498.2" cy="210.7" r="6.8" fill="#4a3fc6"/>
<circle cx="528.6" cy="229.2" r="6.8" fill="#4a3fc6"/>
<circle cx="559.0" cy="339.7" r="6.8" fill="#4a3fc6"/>
<circle cx="589.4" cy="381.2" r="6.8" fill="#4a3fc6"/>
<circle cx="619.9" cy="353.6" r="6.8" fill="#4a3fc6"/>
<circle cx="650.3" cy="408.8" r="6.8" fill="#4a3fc6"/>
<circle cx="680.7" cy="436.5" r="6.8" fill="#4a3fc6"/>
<circle cx="711.1" cy="385.8" r="6.8" fill="#4a3fc6"/>
<circle cx="741.5" cy="362.8" r="6.8" fill="#4a3fc6"/>
<circle cx="772.0" cy="348.9" r="6.8" fill="#4a3fc6"/>
<circle cx="802.4" cy="348.9" r="6.8" fill="#4a3fc6"/>
<circle cx="832.8" cy="256.8" r="6.8" fill="#4a3fc6"/>
<circle cx="863.2" cy="302.9" r="6.8" fill="#4a3fc6"/>
<circle cx="893.6" cy="316.7" r="6.8" fill="#4a3fc6"/>
<circle cx="924.1" cy="183.1" r="6.8" fill="#4a3fc6"/>
<circle cx="954.5" cy="169.3" r="6.8" fill="#4a3fc6"/>
<circle cx="984.9" cy="150.9" r="6.8" fill="#4a3fc6"/>
<path d="M89.3 231.3H1000" stroke="#c44b56" stroke-width="4.3" stroke-dasharray="8.3 5.23" fill="none" opacity="0.9"/>
<path d="M894 108.5V522.5" stroke="#c44b56" stroke-width="4.3" stroke-dasharray="8.0 5.52" fill="none" opacity="0.9"/>
<rect x="87.2" y="770.3" width="28.2" height="28.2" fill="#5f9b62"/>
<text x="101.3" y="790.3" font-size="16.5" font-weight="normal" text-anchor="middle" fill="#f4f6ee">01</text>
<text x="118.8" y="789.3" font-size="20.0" font-weight="normal" text-anchor="start" fill="#2a2838" textLength="86.9" lengthAdjust="spacingAndGlyphs">Vitamin C</text>
<rect x="247.3" y="770.3" width="28.2" height="28.2" fill="#6363f4"/>
<text x="261.4" y="790.3" font-size="16.5" font-weight="normal" text-anchor="middle" fill="#f4f4ff">02</text>
<text x="278.9" y="789.3" font-size="20.0" font-weight="normal" text-anchor="start" fill="#2a2838">Alchemika</text>
<rect x="409.0" y="770.3" width="28.2" height="28.2" fill="#fdc997"/>
<text x="423.1" y="790.3" font-size="16.5" font-weight="normal" text-anchor="middle" fill="#3b2c22">03</text>
<text x="440.6" y="789.3" font-size="20.0" font-weight="normal" text-anchor="start" fill="#2a2838">Lejdyvita</text>
<rect x="87.2" y="800.0" width="28.2" height="28.2" fill="#f47af4"/>
<text x="101.3" y="820.0" font-size="16.5" font-weight="normal" text-anchor="middle" fill="#4a1c52">04</text>
<text x="118.8" y="819.0" font-size="20.0" font-weight="normal" text-anchor="start" fill="#2a2838" textLength="129.5" lengthAdjust="spacingAndGlyphs">Ovulation Pain</text>
<text x="543.5" y="876.0" font-size="19.5" font-weight="normal" text-anchor="middle" fill="#9c9a8c" textLength="232.8" lengthAdjust="spacingAndGlyphs">https://FertilityFriend.com</text>
<text x="543.4" y="898.1" font-size="16.0" font-weight="normal" text-anchor="middle" fill="#9c9a8c" textLength="515.6" lengthAdjust="spacingAndGlyphs">Copyright 1998-2021 Tamtris Web Services Inc. - All Rights Reserved.</text>
</svg></body></html>
